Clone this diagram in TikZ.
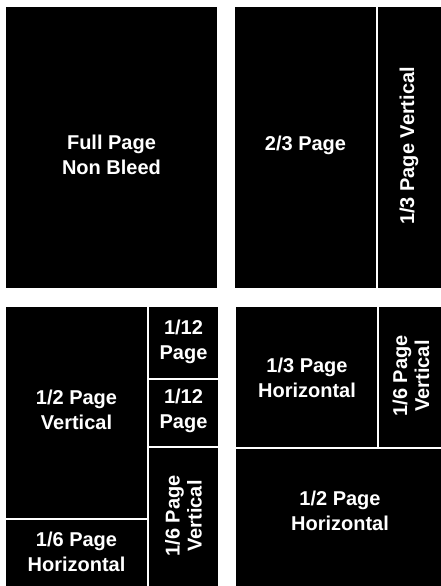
\documentclass[tikz,border=0pt]{standalone}
\usepackage{fontspec}
\setmainfont{Liberation Sans}
\usepackage{xcolor}

\tikzset{
    adblock/.style={fill=black},
    gap/.style={draw=white, line width=2pt},
    adlabel/.style={text=white, align=center, font=\bfseries\fontsize{20}{25}\selectfont, inner sep=0pt},
    sidelabel/.style={adlabel, rotate=90, font=\bfseries\fontsize{20}{22}\selectfont}
}

\begin{document}
\begin{tikzpicture}[x=1pt, y=-1pt]
            \useasboundingbox (0,0) rectangle (441,586);

            % Draw the four black pages
            \foreach \xa/\ya/\xb/\yb in {6/7/217/288, 235/7/441/288, 6/307/218/586, 236/307/441/586}
            {
                \fill[adblock] (\xa,\ya) rectangle (\xb,\yb);
            }

            % White cuts between the ad spaces
            \draw[gap] (377,7) -- (377,288);
            \draw[gap] (148,307) -- (148,586);
            \draw[gap] (148,378.5) -- (218,378.5);
            \draw[gap] (148,446.5) -- (218,446.5);
            \draw[gap] (6,518.5) -- (148,518.5);
            \draw[gap] (236,447.5) -- (441,447.5);
            \draw[gap] (378,307) -- (378,448.5);

            % Add labels
            \node[adlabel] (full) at (111.5,155) {Full Page\\Non Bleed};
            \node[adlabel] (twothird) at (305.5,145) {2/3 Page};
            \node[sidelabel] (thirdvert) at (409,146) {1/3 Page Vertical};
            \node[adlabel] (halfvert) at (76.5,410) {1/2 Page\\Vertical};
            \node[adlabel] (twelfthA) at (183.5,342) {1/12\\Page};
            \node[adlabel] (twelfthB) at (183.5,411) {1/12\\Page};
            \node[adlabel] (sixthhoriz) at (76.5,552) {1/6 Page\\Horizontal};
            \node[sidelabel] (sixthvertA) at (183.5,516) {1/6 Page\\Vertical};
            \node[adlabel] (thirdhoriz) at (307,378) {1/3 Page\\Horizontal};
            \node[sidelabel] (sixthvertB) at (411,376) {1/6 Page\\Vertical};
            \node[adlabel] (halfhoriz) at (340,511) {1/2 Page\\Horizontal};
        \end{tikzpicture}
\end{document}
